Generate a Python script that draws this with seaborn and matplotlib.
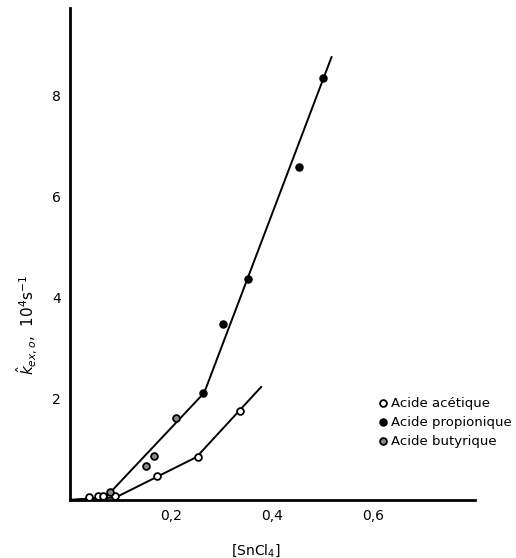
import matplotlib
matplotlib.use("Agg")
import matplotlib.pyplot as plt
import seaborn as sns

# ==========================
# Data
# ==========================

acetique_x = [0.038, 0.055, 0.065, 0.089, 0.172, 0.253, 0.335]
acetique_y = [0.06, 0.08, 0.08, 0.08, 0.47, 0.85, 1.76]

propionique_x = [0.263, 0.303, 0.352, 0.453, 0.50]
propionique_y = [2.12, 3.48, 4.38, 6.59, 8.35]

butyrique_x = [0.079, 0.150, 0.165, 0.21]
butyrique_y = [0.16, 0.67, 0.87, 1.62]

# drawn fit lines
upper_x = [0.0, 0.07, 0.265, 0.517]
upper_y = [0.0, 0.05, 2.12, 8.77]
lower_x = [0.0, 0.09, 0.25, 0.378]
lower_y = [0.0, 0.05, 0.85, 2.24]

x_ticks = [0.2, 0.4, 0.6]
x_tick_labels = ["0,2", "0,4", "0,6"]
y_ticks = [2, 4, 6, 8]

# ==========================
# Plot
# ==========================

sns.set_style("white")
plt.rcParams["font.family"] = ["DejaVu Sans"]

fig = plt.figure(figsize=(5.16, 5.58), dpi=100)
ax = fig.add_axes([0.136, 0.104, 0.784, 0.882])

sns.lineplot(x=upper_x, y=upper_y, ax=ax, color="black", lw=1.4,
             sort=False, estimator=None)
sns.lineplot(x=lower_x, y=lower_y, ax=ax, color="black", lw=1.4,
             sort=False, estimator=None)

sns.scatterplot(x=acetique_x, y=acetique_y, ax=ax, s=24,
                facecolor="white", edgecolor="black", linewidth=1.3,
                label="Acide acétique", zorder=3)
sns.scatterplot(x=propionique_x, y=propionique_y, ax=ax, s=26,
                facecolor="black", edgecolor="black", linewidth=1.0,
                label="Acide propionique", zorder=3)
sns.scatterplot(x=butyrique_x, y=butyrique_y, ax=ax, s=24,
                facecolor="#8a8a8a", edgecolor="black", linewidth=1.3,
                label="Acide butyrique", zorder=3)

ax.set_xlim(0, 0.80)
ax.set_ylim(0, 9.74)

ax.set_xticks(x_ticks)
ax.set_xticklabels(x_tick_labels)
ax.set_yticks(y_ticks)

ax.tick_params(axis="both", direction="out", length=3, width=1,
               labelsize=10, color="black", labelcolor="black")

for side in ["top", "right"]:
    ax.spines[side].set_visible(False)
for side in ["left", "bottom"]:
    ax.spines[side].set_color("black")
    ax.spines[side].set_linewidth(2)

ax.set_xlabel("[SnCl$_4$]", fontsize=10, color="black")
ax.set_ylabel(r"$\hat{k}_{ex,o}$,  10$^4$s$^{-1}$", fontsize=11,
              color="black")
ax.xaxis.set_label_coords(0.46, -0.085)
ax.yaxis.set_label_coords(-0.075, 0.356)

ax.legend(loc="center left", bbox_to_anchor=(0.745, 0.158), frameon=False,
          fontsize=9.5, handletextpad=0.05, labelspacing=0.45,
          handlelength=1.0, borderaxespad=0, labelcolor="black")

fig.savefig("out.png", dpi=100)
plt.close(fig)
